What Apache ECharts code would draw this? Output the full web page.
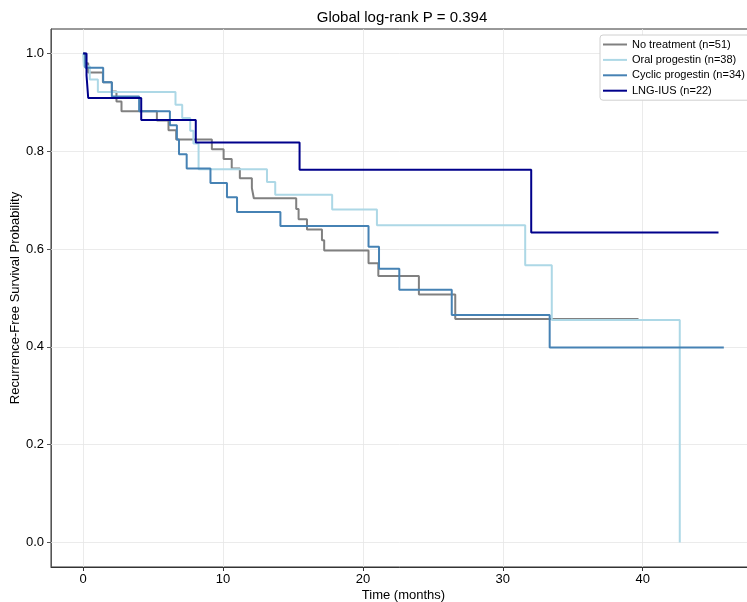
<!DOCTYPE html>
<html><head><meta charset="utf-8">
<script src="https://cdn.jsdelivr.net/npm/echarts@6/dist/echarts.min.js"></script>
<style>html,body{margin:0;padding:0;background:#fff}#c{width:747px;height:602px}</style>
</head><body><div id="c"></div>
<script>
const titleText = 'Global log-rank P = 0.394';
const xName = 'Time (months)';
const yName = 'Recurrence-Free Survival Probability';
const seriesNames = ['No treatment (n=51)', 'Oral progestin (n=38)', 'Cyclic progestin (n=34)', 'LNG-IUS (n=22)'];
const seriesColors = ['#808080', '#add8e6', '#4682b4', '#00008b'];

const noTreatTime = [0, 0.15, 0.36, 1.41, 2.05, 2.38, 2.74, 5.27, 6.1, 6.65, 9.2, 10.04, 10.62, 11.2, 12.06, 12.2, 15.23, 15.4, 16.0, 17.07, 17.23, 20.4, 21.1, 24.0, 26.6, 39.7];
const noTreatSurv = [1, 0.980, 0.961, 0.941, 0.922, 0.902, 0.882, 0.863, 0.843, 0.824, 0.804, 0.784, 0.765, 0.745, 0.725, 0.704, 0.682, 0.661, 0.640, 0.618, 0.597, 0.571, 0.545, 0.507, 0.457, 0.457];

const oralTime = [0, 0.05, 0.47, 1.05, 6.6, 7.08, 7.65, 7.88, 8.25, 13.14, 13.73, 17.8, 21.0, 31.6, 33.5, 42.65];
const oralSurv = [1, 0.974, 0.947, 0.921, 0.895, 0.868, 0.842, 0.816, 0.763, 0.737, 0.711, 0.681, 0.649, 0.567, 0.455, 0.0];

const cyclicTime = [0, 0.15, 1.43, 2.05, 4.0, 6.2, 6.7, 6.85, 7.4, 9.1, 10.28, 11.0, 14.1, 20.4, 21.15, 22.6, 26.35, 33.35, 45.8];
const cyclicSurv = [1, 0.971, 0.941, 0.912, 0.882, 0.853, 0.824, 0.794, 0.765, 0.735, 0.706, 0.676, 0.647, 0.605, 0.560, 0.517, 0.465, 0.399, 0.399];

const lngTime = [0, 0.24, 0.36, 4.15, 8.05, 15.47, 32.03, 45.42];
const lngSurv = [1, 0.955, 0.909, 0.864, 0.818, 0.762, 0.634, 0.634];

const xTicks = [0, 10, 20, 30, 40];
const yTicks = [0.0, 0.2, 0.4, 0.6, 0.8, 1.0];
const xMin = -2.3, xMax = 48.1;
const yMin = -0.05, yMax = 1.05;

const FONT = "'Liberation Sans', Arial, Helvetica, sans-serif";
const times = [noTreatTime, oralTime, cyclicTime, lngTime];
const survs = [noTreatSurv, oralSurv, cyclicSurv, lngSurv];

const lineSeries = seriesNames.map((name, i) => ({
  name: name,
  type: 'line',
  step: 'end',
  data: times[i].map((t, j) => [t, survs[i][j]]),
  symbol: 'none',
  showSymbol: false,
  z: 3,
  lineStyle: { color: seriesColors[i], width: 2 },
  itemStyle: { color: seriesColors[i] },
  animation: false
}));

const gridSeries = {
  name: 'grid',
  type: 'line',
  data: [],
  silent: true,
  z: 1,
  animation: false,
  markLine: {
    silent: true,
    z: 1,
    symbol: ['none', 'none'],
    label: { show: false },
    animation: false,
    lineStyle: { color: '#e6e6e6', type: 'solid', width: 0.8 },
    emphasis: { disabled: true },
    data: xTicks.map(v => ({ xAxis: v })).concat(yTicks.map(v => ({ yAxis: v })))
  }
};

const chart = echarts.init(document.getElementById('c'), null, { renderer: 'canvas' });
chart.setOption({
  backgroundColor: '#ffffff',
  animation: false,
  textStyle: { fontFamily: FONT },
  title: {
    text: titleText,
    left: 402,
    textAlign: 'center',
    top: 10,
    padding: 0,
    textStyle: { fontFamily: FONT, fontSize: 15, fontWeight: 'normal', color: '#000' }
  },
  grid: {
    left: 51, top: 29, width: 705, height: 538,
    show: true, borderColor: '#333', borderWidth: 1, backgroundColor: 'transparent',
    containLabel: false,
    outerBoundsMode: 'none'
  },
  legend: {
    data: seriesNames,
    orient: 'vertical',
    left: 600,
    top: 35,
    padding: [4, 6, 4, 3],
    icon: 'rect',
    itemWidth: 24,
    itemHeight: 2,
    itemGap: 4.4,
    itemTextGap: 8,
    borderColor: '#d0d0d0',
    borderWidth: 1,
    borderRadius: 3,
    backgroundColor: '#ffffff',
    textStyle: { fontFamily: FONT, fontSize: 11, color: '#000', lineHeight: 11 }
  },
  xAxis: {
    type: 'value', min: xMin, max: xMax,
    splitLine: { show: false },
    axisLine: { show: true, onZero: false, lineStyle: { color: '#333', width: 1 } },
    axisTick: { show: true, customValues: xTicks, length: 4, lineStyle: { color: '#333' } },
    axisLabel: { customValues: xTicks, color: '#000', fontSize: 13, fontFamily: FONT, margin: 6 },
    name: xName, nameLocation: 'middle', nameGap: 22, nameMoveOverlap: false,
    nameTextStyle: { fontFamily: FONT, fontSize: 13, color: '#000' }
  },
  yAxis: {
    type: 'value', min: yMin, max: yMax,
    splitLine: { show: false },
    axisLine: { show: true, onZero: false, lineStyle: { color: '#555', width: 1 } },
    axisTick: { show: true, customValues: yTicks, length: 4, lineStyle: { color: '#555' } },
    axisLabel: { customValues: yTicks, color: '#000', fontSize: 13, fontFamily: FONT, margin: 7,
      formatter: v => v.toFixed(1) },
    name: yName, nameLocation: 'middle', nameGap: 29, nameRotate: 90, nameMoveOverlap: false,
    nameTextStyle: { fontFamily: FONT, fontSize: 13, color: '#000' }
  },
  series: [gridSeries].concat(lineSeries)
});
</script>
</body></html>
